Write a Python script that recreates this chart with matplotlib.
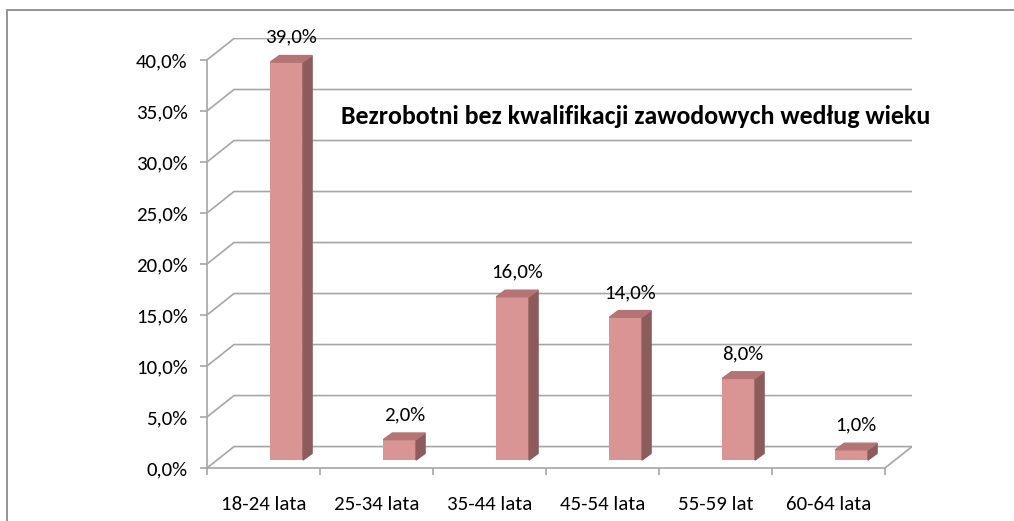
import matplotlib
matplotlib.use("Agg")
import matplotlib.pyplot as plt
from matplotlib.patches import Polygon, Rectangle
from matplotlib.ticker import FixedLocator

categories = ["18-24 lata", "25-34 lata", "35-44 lata", "45-54 lata", "55-59 lat", "60-64 lata"]
values = [39.0, 2.0, 16.0, 14.0, 8.0, 1.0]
yticks = [0, 5, 10, 15, 20, 25, 30, 35, 40]
title = "Bezrobotni bez kwalifikacji zawodowych według wieku"

plt.rcParams["font.family"] = ["Carlito", "Liberation Sans", "DejaVu Sans"]

GRID = "#a6a6a6"
FRONT, TOP, SIDE = "#d99594", "#b47473", "#8c5b5b"
FS = 15

# pseudo-3D geometry (data units: categories on x, percent on y)
DX, DY = 0.239, 2.1          # depth of the back wall
BAR_SHIFT, BAR_W = 0.205, 0.29
BAR_BASE = 0.78               # bars sit a bit behind the front floor edge
BDX, BDY = 0.08, 0.65         # depth of each bar

W, H = 1014, 521
fig = plt.figure(figsize=(W / 100, H / 100), dpi=100)
ax = fig.add_axes([207 / W, (H - 468) / H, (912 - 207) / W, (468 - 38.5) / H])
n = len(categories)
ax.set_xlim(-0.5, n - 0.5 + DX)
ax.set_ylim(0, yticks[-1] + DY)

# outer chart border (only top/left are inside the picture)
fig.patches.append(Rectangle((7 / W, -0.2), 1.5, (H - 10) / H + 0.2, transform=fig.transFigure,
                             fill=False, edgecolor="#8c8c8c", lw=1.3))

# back wall gridlines + floor
for v in yticks:
    ax.plot([-0.5, -0.5 + DX, n - 0.5 + DX], [v, v + DY, v + DY], color=GRID, lw=1.2,
            zorder=1, solid_joinstyle="miter")
ax.plot([n - 0.5, n - 0.5 + DX], [0, DY], color=GRID, lw=1.2, zorder=1)

# bars: front face via ax.bar, top/side as polygons from the same values
xs = [i + BAR_SHIFT for i in range(n)]
ax.bar(xs, values, width=BAR_W, bottom=BAR_BASE, color=FRONT, zorder=3)
for x, v in zip(xs, values):
    l, r = x - BAR_W / 2, x + BAR_W / 2
    b, t = BAR_BASE, BAR_BASE + v
    ax.add_patch(Polygon([(r, b), (r + BDX, b + BDY), (r + BDX, t + BDY), (r, t)],
                         closed=True, color=SIDE, zorder=3))
    ax.add_patch(Polygon([(l, t), (l + BDX, t + BDY), (r + BDX, t + BDY), (r, t)],
                         closed=True, color=TOP, zorder=3))
    ax.annotate(f"{v:.1f}%".replace(".", ","), (x + BDX / 2, t + BDY), xytext=(0, 7),
                textcoords="offset points", ha="center", va="bottom", fontsize=FS,
                annotation_clip=False, zorder=4)

# axes
for s in ("top", "right"):
    ax.spines[s].set_visible(False)
for s in ("left", "bottom"):
    ax.spines[s].set_color(GRID)
    ax.spines[s].set_linewidth(1.2)
ax.spines["left"].set_bounds(0, yticks[-1])
ax.spines["bottom"].set_bounds(-0.5, n - 0.5)

ax.set_yticks(yticks)
ax.set_yticklabels([f"{v:.1f}%".replace(".", ",") for v in yticks])
ax.tick_params(axis="y", length=5, width=1.2, color=GRID, pad=9, labelsize=FS)

ax.set_xticks(range(n))
ax.set_xticklabels(categories)
ax.xaxis.set_minor_locator(FixedLocator([i - 0.5 for i in range(n + 1)]))
ax.tick_params(axis="x", which="major", length=0, pad=20, labelsize=FS)
ax.tick_params(axis="x", which="minor", length=5, width=1.2, color=GRID)

fig.text(636 / W, 1 - 116 / H, title, ha="center", va="center", fontsize=18.6, fontweight="bold")

fig.savefig("out.png", dpi=100)
